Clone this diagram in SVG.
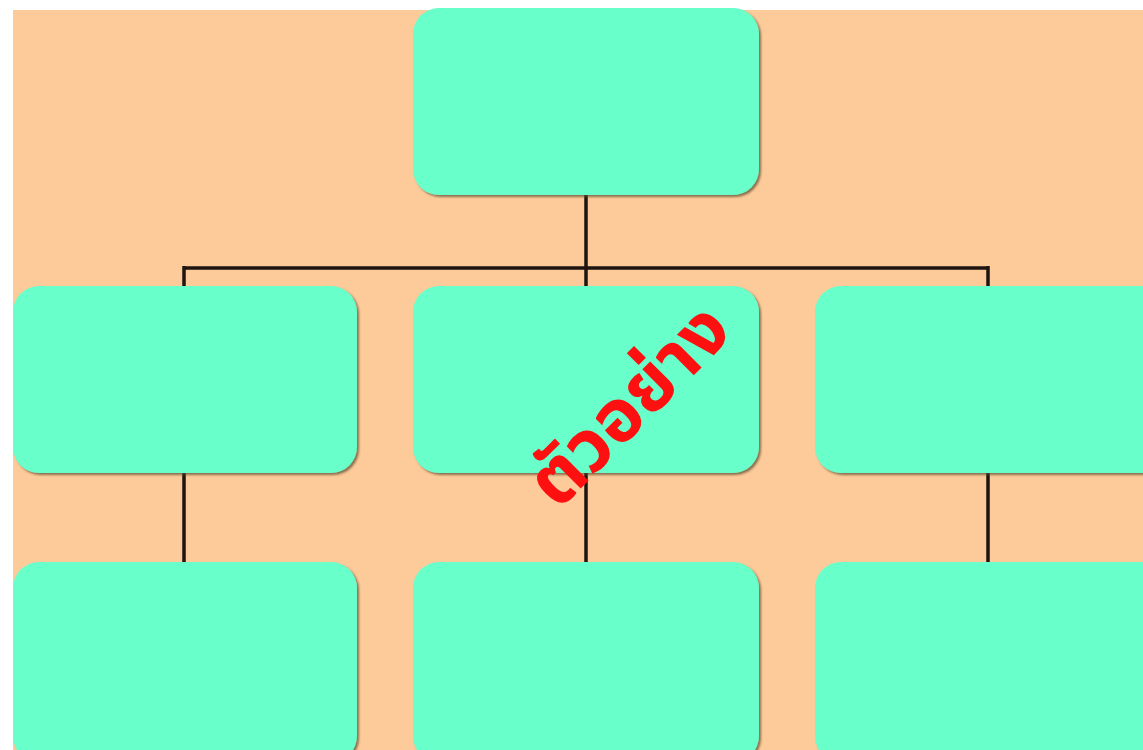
<svg xmlns="http://www.w3.org/2000/svg" width="1143" height="750" viewBox="0 0 1143 750">
<defs>
<filter id="sh" x="-5%" y="-5%" width="115%" height="115%">
<feDropShadow dx="2" dy="2" stdDeviation="1.2" flood-color="#5a4a2a" flood-opacity="0.7"/>
</filter>
</defs>
<style>
.box{fill:#68FFCB;filter:url(#sh)}
.ln{stroke:#1e1410;stroke-width:3.5;fill:none}
.wm{font-family:"Noto Sans Thai","Noto Sans","DejaVu Sans",sans-serif;font-weight:bold;font-size:74px;fill:#FF1010}
</style>
<rect x="0" y="0" width="1143" height="750" fill="#FFFFFF"/>
<rect x="13" y="10" width="1130" height="740" fill="#FDCA9A"/>
<g id="connectors">
<path class="ln" d="M586 195 V268 M184 268 H988 M184 266 V287 M586 268 V287 M988 266 V287"/>
<path class="ln" d="M184 472 V563 M586 472 V563 M988 472 V563"/>
</g>
<g id="n-top"><rect class="box" x="413" y="8" width="346" height="187" rx="26"/></g>
<g id="n-mid-left"><rect class="box" x="13" y="286" width="344" height="187" rx="26"/></g>
<g id="n-mid-center"><rect class="box" x="413" y="286" width="346" height="187" rx="26"/></g>
<g id="n-mid-right"><rect class="box" x="815" y="286" width="360" height="187" rx="26"/></g>
<g id="n-bot-left"><rect class="box" x="13" y="562" width="344" height="200" rx="26"/></g>
<g id="n-bot-center"><rect class="box" x="413" y="562" width="346" height="200" rx="26"/></g>
<g id="n-bot-right"><rect class="box" x="815" y="562" width="360" height="200" rx="26"/></g>
<text class="wm" x="632" y="408" text-anchor="middle" dominant-baseline="middle" transform="rotate(-45 632 408)">ตัวอย่าง</text>
</svg>
